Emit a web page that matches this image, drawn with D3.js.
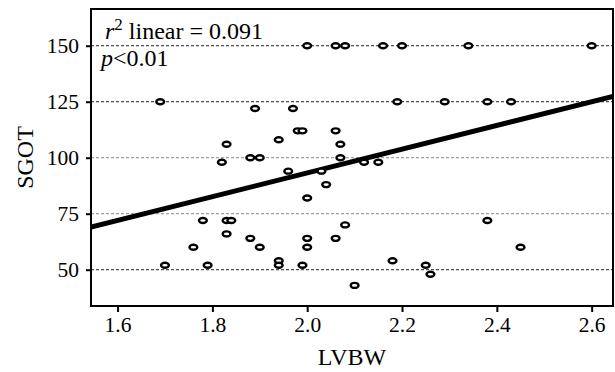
<!DOCTYPE html>
<meta charset="utf-8">
<style>
  body { margin: 0; background: #fff; }
  svg text { font-family: "Times New Roman", Times, "Liberation Serif", "DejaVu Serif", serif; fill: #000; }
</style>
<body>
<script src="https://d3js.org/d3.v7.min.js"></script>
<script>

// LVBW (x) and SGOT (y)
var lvbw = [2.00, 2.06, 2.08, 2.16, 2.20, 2.34, 2.60,
            1.69, 2.19, 2.29, 2.38, 2.43,
            1.89, 1.97, 1.83, 1.94, 1.98, 1.99, 2.06, 2.07, 2.07,
            1.88, 1.90, 1.82, 1.96, 2.12, 2.15, 2.03, 2.04, 2.00,
            1.78, 1.83, 1.84, 1.83, 1.88, 1.90, 1.76, 1.70, 1.79,
            1.94, 1.94, 1.99, 2.00, 2.00, 2.06, 2.08, 2.10,
            2.18, 2.25, 2.26, 2.38, 2.45];
var sgot = [150, 150, 150, 150, 150, 150, 150,
            125, 125, 125, 125, 125,
            122, 122, 106, 108, 112, 112, 112, 106, 100,
            100, 100, 98, 94, 98, 98, 94, 88, 82,
            72, 72, 72, 66, 64, 60, 60, 52, 52,
            54, 52, 52, 64, 60, 64, 70, 43,
            54, 52, 48, 72, 60];

var xTicks = [1.6, 1.8, 2.0, 2.2, 2.4, 2.6];
var yTicks = [50, 75, 100, 125, 150];

// linear fit drawn on the chart
var fitIntercept = -12.8;
var fitSlope = 53;

var serif = '"Times New Roman", Times, "Liberation Serif", "DejaVu Serif", serif';

var W = 615, H = 372;
var margin = {top: 9, right: 2, bottom: 66, left: 91};
var width = W - margin.left - margin.right,
    height = H - margin.top - margin.bottom;

var svg = d3.select("body").append("svg")
    .attr("width", W).attr("height", H);

var g = svg.append("g")
    .attr("transform", "translate(" + margin.left + "," + margin.top + ")");

var x = d3.scaleLinear().domain([1.544, 2.645]).range([0, width]);
var y = d3.scaleLinear().domain([33.8, 166.4]).range([height, 0]);

// dashed reference lines
g.selectAll(".grid")
  .data(yTicks)
  .enter().append("line")
    .attr("class", "grid")
    .attr("x1", 0).attr("x2", width)
    .attr("y1", function(d) { return y(d); })
    .attr("y2", function(d) { return y(d); })
    .attr("stroke", function(d) { return (d === 100 || d === 75) ? "#888" : "#222"; })
    .attr("stroke-width", 1)
    .attr("stroke-dasharray", "3,2");

// regression line
svg.append("clipPath").attr("id", "clip")
  .append("rect").attr("width", width).attr("height", height);

var xd = x.domain();
g.append("line")
  .attr("clip-path", "url(#clip)")
  .attr("x1", x(xd[0])).attr("y1", y(fitIntercept + fitSlope * xd[0]))
  .attr("x2", x(xd[1])).attr("y2", y(fitIntercept + fitSlope * xd[1]))
  .attr("stroke", "#000")
  .attr("stroke-width", 5);

// points
g.selectAll(".pt")
  .data(d3.range(lvbw.length))
  .enter().append("ellipse")
    .attr("class", "pt")
    .attr("cx", function(i) { return x(lvbw[i]); })
    .attr("cy", function(i) { return y(sgot[i]); })
    .attr("rx", 3.9).attr("ry", 2.5)
    .attr("fill", "#fff")
    .attr("stroke", "#000")
    .attr("stroke-width", 2.4);

// frame
g.append("rect")
  .attr("width", width).attr("height", height)
  .attr("fill", "none")
  .attr("stroke", "#000")
  .attr("stroke-width", 2);

// axes
var xAxis = g.append("g")
  .attr("transform", "translate(0," + height + ")")
  .call(d3.axisBottom(x).tickValues(xTicks).tickFormat(d3.format(".1f")).tickSize(6).tickPadding(5));

var yAxis = g.append("g")
  .call(d3.axisLeft(y).tickValues(yTicks).tickSize(5).tickPadding(7));

[xAxis, yAxis].forEach(function(a) {
  a.attr("font-family", null);
  a.select(".domain").remove();
  a.selectAll(".tick line").attr("stroke", "#000").attr("stroke-width", 2);
  a.selectAll(".tick text")
    .style("font-family", serif)
    .style("font-size", "21.5px")
    .attr("fill", "#000");
});

// axis titles
svg.append("text")
  .attr("x", margin.left + width / 2)
  .attr("y", 365)
  .attr("text-anchor", "middle")
  .style("font-size", "24px")
  .text("LVBW");

svg.append("text")
  .attr("transform", "translate(33," + (margin.top + height / 2) + ") rotate(-90)")
  .attr("text-anchor", "middle")
  .style("font-size", "24px")
  .text("SGOT");

// annotation
var ann = svg.append("text")
  .attr("x", 105).attr("y", 39)
  .style("font-size", "24px");
ann.append("tspan").style("font-style", "italic").text("r");
ann.append("tspan").attr("dy", -9).style("font-size", "17px").text("2");
ann.append("tspan").attr("dy", 9).text(" linear = 0.091");

var ann2 = svg.append("text")
  .attr("x", 101).attr("y", 66)
  .style("font-size", "24px");
ann2.append("tspan").style("font-style", "italic").text("p");
ann2.append("tspan").text("<0.01");

</script>
</body>
